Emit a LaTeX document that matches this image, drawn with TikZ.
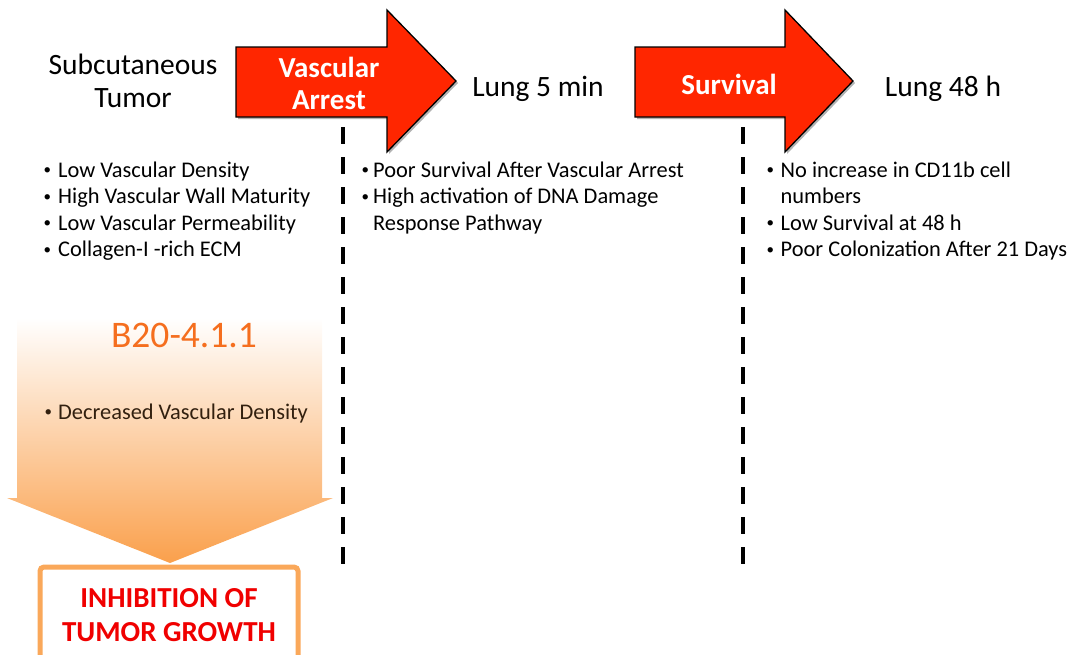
\documentclass[tikz,border=0pt]{standalone}
\usepackage{fontspec}
\setmainfont{Carlito}
\usetikzlibrary{shadows}
\definecolor{arrowred}{RGB}{255,38,0}
\definecolor{peach}{RGB}{250,160,76}
\definecolor{boxorange}{RGB}{250,168,90}
\definecolor{labelorange}{RGB}{245,110,30}
\definecolor{brownish}{RGB}{50,32,15}
\definecolor{inhibred}{RGB}{240,0,0}
\newcommand\bit[2]{\makebox[#1][l]{\hspace{1.5pt}\raisebox{2.4pt}{\fontsize{15}{15}\selectfont •}}#2}
\begin{document}
\begin{tikzpicture}[x=1pt,y=-1pt,
  redarrow/.style={fill=arrowred, draw=black, line width=1.3pt, line join=miter,
    drop shadow={opacity=0.3, fill=black, shadow xshift=2pt, shadow yshift=-2pt}},
  arrowlabel/.style={text=white, font=\bfseries\fontsize{29}{33}\selectfont, align=center, inner sep=0},
  stagelabel/.style={text=black, font=\fontsize{29.5}{33}\selectfont, align=center, inner sep=0},
  item/.style={text=black, font=\fontsize{22.4}{26.4}\selectfont, anchor=base west, inner sep=0},
  dashline/.style={line width=4pt, dash pattern=on 17pt off 13pt, black},
  resultbox/.style={draw=boxorange, line width=5pt, fill=white, rounded corners=4pt,
    minimum width=258pt, minimum height=96pt, align=center, text=inhibred,
    font=\bfseries\fontsize{29}{34}\selectfont}
]
\useasboundingbox (0,0) rectangle (1071,654);
\clip (0,0) rectangle (1071,654);

% red process arrows
\draw[redarrow] (236,47) -- (387,47) -- (387,10) -- (456,81) -- (387,152) -- (387,117) -- (236,117) -- cycle;
\draw[redarrow] (635,47) -- (785,47) -- (785,10) -- (853,81) -- (785,152) -- (785,117) -- (635,117) -- cycle;

\node[arrowlabel, anchor=base] (va1) at (329,77) {Vascular};
\node[arrowlabel, anchor=base] (va2) at (329,109) {Arrest};
\node[arrowlabel, anchor=base] (surv) at (729,94) {Survival};

\node[stagelabel, anchor=base] (st1) at (133,74) {Subcutaneous};
\node[stagelabel, anchor=base] (st2) at (133,107) {Tumor};
\node[stagelabel, anchor=base] (lung5) at (538,96) {Lung 5 min};
\node[stagelabel, anchor=base] (lung48) at (943,96) {Lung 48 h};

% dashed separators
\coordinate (d1t) at (343,127);
\coordinate (d1b) at (343,565);
\coordinate (d2t) at (743,127);
\coordinate (d2b) at (743,565);
\draw[dashline] (d1t) -- (d1b);
\draw[dashline] (d2t) -- (d2b);

% left column
\node[item] (l1) at (42,177) {\bit{16pt}{Low Vascular Density}};
\node[item] (l2) at (42,203.5) {\bit{16pt}{High Vascular Wall Maturity}};
\node[item] (l3) at (42,230) {\bit{16pt}{Low Vascular Permeability}};
\node[item] (l4) at (42,256.5) {\bit{16pt}{Collagen-I -rich ECM}};

% middle column
\node[item] (m1) at (360,177) {\bit{13pt}{Poor Survival After Vascular Arrest}};
\node[item] (m2) at (360,203.5) {\bit{13pt}{High activation of DNA Damage}};
\node[item] (m3) at (373,230) {Response Pathway};

% right column
\node[item] (r1) at (765,177) {\bit{15.5pt}{No increase in CD11b cell}};
\node[item] (r2) at (780.5,203.5) {numbers};
\node[item] (r3) at (765,230) {\bit{15.5pt}{Low Survival at 48 h}};
\node[item] (r4) at (765,256.5) {\bit{15.5pt}{Poor Colonization After 21 Days}};

% gradient down arrow
\shade[top color=white, bottom color=peach]
  (17,318) -- (322,318) -- (322,498) -- (333,498) -- (170,563) -- (7,498) -- (17,498) -- cycle;
\node[text=labelorange, font=\fontsize{37.5}{40}\selectfont, anchor=base, inner sep=0] (drug) at (184,347) {B20-4.1.1};
\node[item, text=brownish] (g1) at (43,419) {\bit{15pt}{Decreased Vascular Density}};

% result box
\node[resultbox] (res) at (169,615) {INHIBITION OF\\TUMOR GROWTH};
\end{tikzpicture}
\end{document}
